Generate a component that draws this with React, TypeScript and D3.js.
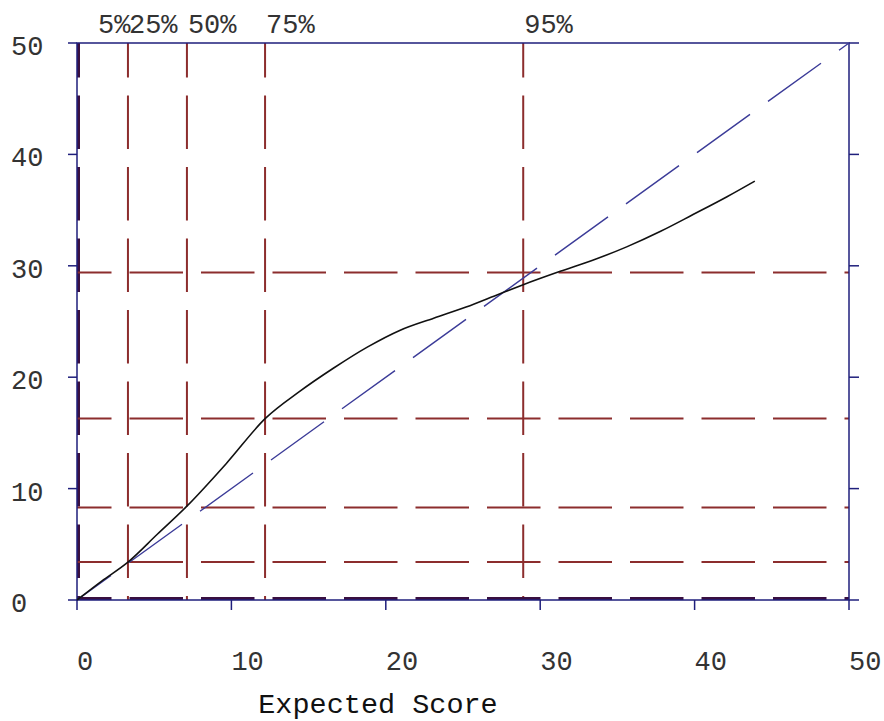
import React, { useRef, useEffect } from 'react';
import * as d3 from 'd3';

// percentile positions: expected (vertical lines) and observed (horizontal lines)
const expectedPct = [0, 3.3, 7.12, 12.18, 28.9];
const observedPct = [0, 3.4, 8.3, 16.3, 29.4];
const pctLabels = ['5%', '25%', '50%', '75%', '95%'];

// observed vs expected curve
const curveX = [0, 1.6, 3.3, 5.2, 7.1, 9.7, 12.2, 14.4, 16.6, 18.8, 20.9, 23.1, 25.2, 27.4, 28.9, 31.3, 33.4, 35.6, 37.8, 39.9, 42.1, 43.9];
const curveY = [0, 1.7, 3.4, 5.9, 8.4, 12.3, 16.3, 18.7, 20.8, 22.7, 24.2, 25.3, 26.3, 27.5, 28.3, 29.5, 30.5, 31.7, 33.1, 34.6, 36.2, 37.6];

const xTicks = [0, 10, 20, 30, 40, 50];
const yTicks = [0, 10, 20, 30, 40, 50];

const W = 884;
const H = 721;

const App: React.FC = () => {
    const svgRef = useRef<SVGSVGElement | null>(null);

    useEffect(() => {
        const svg = d3.select(svgRef.current);
        svg.selectAll('*').remove();

        const x = d3.scaleLinear().domain([0, 50]).range([77, 849]);
        const y = d3.scaleLinear().domain([0, 50]).range([600, 43]);

        const navy = '#1f1f7c';
        const red = '#8c2d2d';
        const font = '"Liberation Mono", "DejaVu Sans Mono", monospace';

        // percentile grid lines
        svg.selectAll('.vline')
            .data(expectedPct)
            .enter()
            .append('line')
            .attr('x1', d => x(d) + (d === 0 ? 1.5 : 0))
            .attr('x2', d => x(d) + (d === 0 ? 1.5 : 0))
            .attr('y1', y(50))
            .attr('y2', y(0))
            .attr('stroke', d => (d === 0 ? '#3a1040' : red))
            .attr('stroke-width', d => (d === 0 ? 3 : 2))
            .attr('stroke-dasharray', '53.5,18')
            .attr('stroke-dashoffset', 19);

        svg.selectAll('.hline')
            .data(observedPct)
            .enter()
            .append('line')
            .attr('x1', x(0))
            .attr('x2', x(50))
            .attr('y1', d => y(d) - (d === 0 ? 1.5 : 0))
            .attr('y2', d => y(d) - (d === 0 ? 1.5 : 0))
            .attr('stroke', d => (d === 0 ? '#3a1040' : red))
            .attr('stroke-width', d => (d === 0 ? 3 : 2))
            .attr('stroke-dasharray', '53.5,18')
            .attr('stroke-dashoffset', 19);

        // axes frame
        const frame = svg.append('g').attr('stroke', navy).attr('stroke-width', 1.5).attr('fill', 'none');
        frame.append('rect')
            .attr('x', x(0))
            .attr('y', y(50))
            .attr('width', x(50) - x(0))
            .attr('height', y(0) - y(50));

        frame.selectAll('.xt')
            .data(xTicks)
            .enter()
            .append('line')
            .attr('x1', d => x(d))
            .attr('x2', d => x(d))
            .attr('y1', y(0))
            .attr('y2', y(0) + 10);

        frame.selectAll('.ytl')
            .data(yTicks)
            .enter()
            .append('line')
            .attr('x1', x(0) - 9)
            .attr('x2', x(0))
            .attr('y1', d => y(d))
            .attr('y2', d => y(d));

        frame.selectAll('.ytr')
            .data(yTicks)
            .enter()
            .append('line')
            .attr('x1', x(50))
            .attr('x2', x(50) + 10)
            .attr('y1', d => y(d))
            .attr('y2', d => y(d));

        // reference diagonal y = x
        const k = Math.hypot(x(1) - x(0), y(0) - y(1)) / (x(1) - x(0));
        svg.append('line')
            .attr('x1', x(0))
            .attr('y1', y(0))
            .attr('x2', x(50))
            .attr('y2', y(50))
            .attr('stroke', '#3b3b98')
            .attr('stroke-width', 1.4)
            .attr('stroke-dasharray', `${53 * k},${18 * k}`)
            .attr('stroke-dashoffset', 19 * k);

        // observed curve
        const pts: [number, number][] = curveX.map((v, i) => [v, curveY[i]]);
        const line = d3.line<[number, number]>()
            .x(d => x(d[0]))
            .y(d => y(d[1]))
            .curve(d3.curveMonotoneX);
        svg.append('path')
            .attr('d', line(pts) as string)
            .attr('fill', 'none')
            .attr('stroke', '#111')
            .attr('stroke-width', 1.6);

        // tick labels
        svg.selectAll('.xl')
            .data(xTicks)
            .enter()
            .append('text')
            .attr('x', d => x(d))
            .attr('y', 670)
            .style('font-family', font)
            .style('font-size', '27px')
            .attr('fill', '#333')
            .text(d => d);

        svg.selectAll('.yl')
            .data(yTicks)
            .enter()
            .append('text')
            .attr('x', 11)
            .attr('y', d => y(d) + 12)
            .style('font-family', font)
            .style('font-size', '27px')
            .attr('fill', '#333')
            .text(d => d);

        // percentile labels on top
        svg.selectAll('.pl')
            .data(expectedPct)
            .enter()
            .append('text')
            .attr('x', d => Math.max(x(d) + 1, x(0) + 21))
            .attr('y', 33)
            .style('font-family', font)
            .style('font-size', '27px')
            .attr('fill', '#333')
            .text((d, i) => pctLabels[i]);

        svg.append('text')
            .attr('x', 378)
            .attr('y', 713)
            .attr('text-anchor', 'middle')
            .style('font-family', font)
            .style('font-size', '28.5px')
            .attr('fill', '#111')
            .text('Expected Score');
    }, []);

    return (
        <svg
            ref={svgRef}
            width={W}
            height={H}
            style={{ position: 'absolute', left: 0, top: 0, background: '#fff' }}
        />
    );
};

export default App;
